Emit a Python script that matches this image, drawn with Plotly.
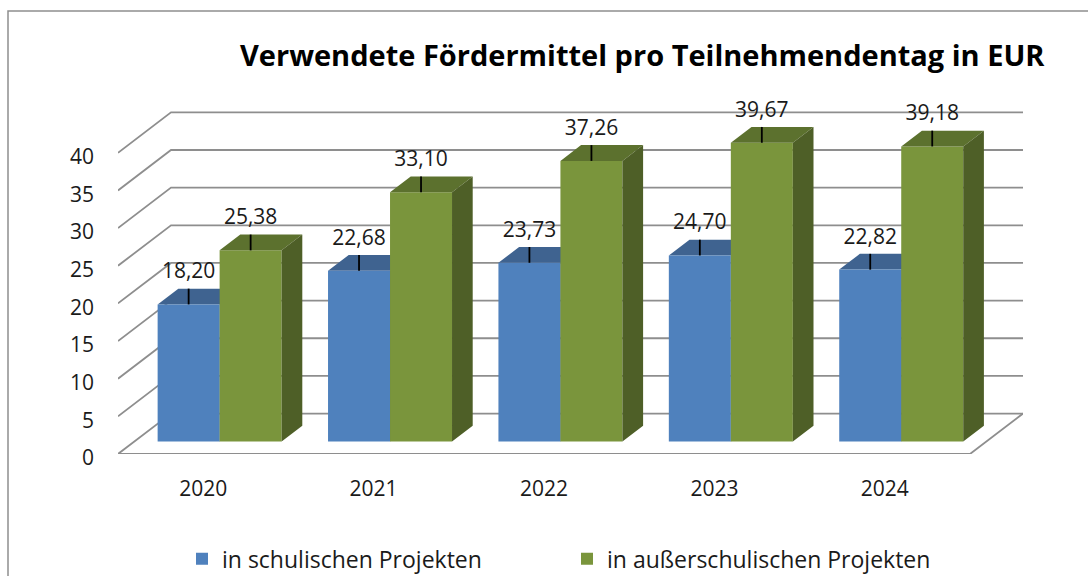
import plotly.graph_objects as go

years = ["2020", "2021", "2022", "2023", "2024"]
schulisch = [18.20, 22.68, 23.73, 24.70, 22.82]
ausserschulisch = [25.38, 33.10, 37.26, 39.67, 39.18]
y_ticks = [0, 5, 10, 15, 20, 25, 30, 35, 40]
title_text = "Verwendete Fördermittel pro Teilnehmendentag in EUR"
name_a = "in schulischen Projekten"
name_b = "in außerschulischen Projekten"

FONT = "Open Sans"
INK = "#1a1a1a"
GRID = "#8e8e8e"
BLUE, BLUE_TOP, BLUE_SIDE = "#4f81bd", "#3f6390", "#3a5a85"
GREEN, GREEN_TOP, GREEN_SIDE = "#7a953c", "#5c712e", "#4e5f27"

W, H = 1088, 576
L, R, T, B = 118, 1023, 70, 454.5
PX_X = 852 / 5          # pixels per category
PX_Y = 7.54             # pixels per value unit
DX, DY = 53 / PX_X, 40.5 / PX_Y   # full floor depth in data units
F0, F1 = 0.31, 0.70     # front / back of the bars as depth fractions
BW = 62 / PX_X
n = len(years)
xmin, xmax = -0.5, -0.5 + (R - L) / PX_X
ymax = (B - T) / PX_Y
base = F0 * DY
dbx, dby = (F1 - F0) * DX, (F1 - F0) * DY
shift = F0 * DX


def grid_trace():
    xs, ys = [], []
    for t in y_ticks:
        xs += [xmin, xmin + DX, xmax, None]
        ys += [t, t + DY, t + DY, None]
    xs += [xmin, xmin + n, xmin + n + DX, None]
    ys += [0, 0, DY, None]
    return go.Scatter(x=xs, y=ys, mode="lines", line=dict(color=GRID, width=1.8),
                      hoverinfo="skip", showlegend=False, cliponaxis=False, zorder=0)


def faces(values, off):
    top_x, top_y, side_x, side_y = [], [], [], []
    for i, v in enumerate(values):
        x0 = i + shift + off - BW / 2
        x1 = x0 + BW
        y1 = base + v
        top_x += [x0, x1, x1 + dbx, x0 + dbx, x0, None]
        top_y += [y1, y1, y1 + dby, y1 + dby, y1, None]
        side_x += [x1, x1 + dbx, x1 + dbx, x1, x1, None]
        side_y += [base, base + dby, y1 + dby, y1, base, None]
    return top_x, top_y, side_x, side_y


def poly(xs, ys, color, z):
    return go.Scatter(x=xs, y=ys, mode="lines", fill="toself", fillcolor=color,
                      line=dict(color=color, width=0), hoverinfo="skip",
                      showlegend=False, cliponaxis=False, zorder=z)


def front(values, off, color, name):
    return go.Bar(x=[i + shift + off for i in range(n)], y=values,
                  base=[base] * n, width=BW, marker=dict(color=color, line=dict(width=0)),
                  name=name, zorder=2, cliponaxis=False)


def labels(values, off):
    xs = [i + shift + off for i in range(n)]
    lx, ly = [], []
    for x, v in zip(xs, values):
        lx += [x, x, None]
        ly += [base + v, base + v + dby, None]
    leader = go.Scatter(x=lx, y=ly, mode="lines", line=dict(color="#000000", width=1.8),
                        hoverinfo="skip", showlegend=False, cliponaxis=False, zorder=5)
    txt = go.Scatter(x=xs, y=[base + v + 4.15 for v in values], mode="text",
                     text=[f"{v:.2f}".replace(".", ",") for v in values],
                     textposition="middle center",
                     textfont=dict(family=FONT, size=21, color=INK),
                     hoverinfo="skip", showlegend=False, cliponaxis=False, zorder=6)
    return [leader, txt]


fig = go.Figure()
fig.add_trace(grid_trace())
ta, ta_y, sa, sa_y = faces(schulisch, -BW / 2)
tb, tb_y, sb, sb_y = faces(ausserschulisch, BW / 2)
fig.add_trace(poly(ta, ta_y, BLUE_TOP, 1))
fig.add_trace(poly(sa, sa_y, BLUE_SIDE, 1))
fig.add_trace(front(schulisch, -BW / 2, BLUE, name_a))
fig.add_trace(front(ausserschulisch, BW / 2, GREEN, name_b))
fig.add_trace(poly(tb, tb_y, GREEN_TOP, 3))
fig.add_trace(poly(sb, sb_y, GREEN_SIDE, 3))
for tr in labels(schulisch, -BW / 2) + labels(ausserschulisch, BW / 2):
    fig.add_trace(tr)

plot_w, plot_h = R - L, B - T
fig.update_layout(
    width=W, height=H, barmode="overlay",
    margin=dict(l=L, r=W - R, t=T, b=H - B, pad=0, autoexpand=False),
    paper_bgcolor="#ffffff", plot_bgcolor="rgba(0,0,0,0)",
    font=dict(family=FONT, size=21, color=INK),
    title=dict(text=f"<b>{title_text}</b>", x=240 / W, xanchor="left", xref="container",
               y=1 - 55.5 / H, yanchor="middle", yref="container",
               font=dict(family=FONT, size=29, color="#000000")),
    xaxis=dict(range=[xmin, xmax], tickmode="array", tickvals=list(range(n)), ticktext=years,
               showgrid=False, zeroline=False, showline=False, ticks="", ticklabelstandoff=20,
               fixedrange=True, automargin=False),
    yaxis=dict(range=[0, ymax], tickmode="array", tickvals=y_ticks, ticktext=[str(t) for t in y_ticks],
               showgrid=False, zeroline=False, showline=False, ticks="", ticklabelstandoff=23,
               ticklabelshift=4, fixedrange=True, automargin=False),
    legend=dict(orientation="h", x=(182 - L) / plot_w, xanchor="left",
                y=(B - 538) / plot_h, yanchor="top", entrywidth=340, entrywidthmode="pixels",
                font=dict(family=FONT, size=23, color=INK), bgcolor="rgba(0,0,0,0)",
                itemclick=False, itemdoubleclick=False),
    shapes=[dict(type="path", xref="paper", yref="paper",
                 path=f"M {(8 - L) / plot_w} {(B - 600) / plot_h} L {(8 - L) / plot_w} {(B - 11) / plot_h} "
                      f"L {(1100 - L) / plot_w} {(B - 11) / plot_h}",
                 line=dict(color="#8e8e8e", width=1.5))],
)

fig.write_html("out.html", config=dict(displayModeBar=False),
               post_script="document.body.style.margin='0';document.body.style.overflow='hidden';")
